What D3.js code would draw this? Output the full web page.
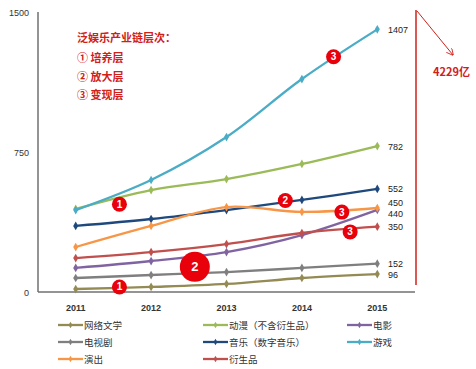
<!DOCTYPE html>
<html><head><meta charset="utf-8">
<script src="https://cdn.jsdelivr.net/npm/d3@7/dist/d3.min.js"></script>
<style>
body{margin:0;background:#fff;}
svg{display:block;font-family:"Noto Sans CJK SC","Liberation Sans",sans-serif;}
</style></head><body>
<svg id="c" width="476" height="369"></svg>
<script>
const years = ["2011","2012","2013","2014","2015"];
const seriesNames = ["网络文学","动漫（不含衍生品）","电影","电视剧","音乐（数字音乐）","游戏","演出","衍生品"];
const seriesColors = ["#948A54","#9BBB59","#8064A2","#7F7F7F","#1F497D","#4BACC6","#F79646","#C0504D"];
const wenxue = [16,27,43,75,96];
const dongman = [445,546,605,686,782];
const dianying = [129,166,214,305,440];
const dianshiju = [75,91,107,129,152];
const yinyue = [354,391,439,493,552];
const youxi = [439,600,830,1141,1407];
const yanchu = [241,354,455,429,450];
const yanshengpin = [182,214,257,316,350];
const seriesValues = [wenxue,dongman,dianying,dianshiju,yinyue,youxi,yanchu,yanshengpin];
const endLabels = ["96","782","440","152","552","1407","450","350"];
const yTicks = [0,750,1500];
const titleLines = ["泛娱乐产业链层次：","① 培养层","② 放大层","③ 变现层"];
const totalLabel = "4229亿";
// badges: [year index, value, text, big?]
const badges = [[0.58,470,"1",0],[0.58,27,"1",0],[1.58,135,"2",1],[2.78,490,"2",0],[3.53,428,"3",0],[3.64,322,"3",0],[3.42,1260,"3",0]];

const svg = d3.select("#c");
const x = d3.scaleBand().domain(years).range([38,415]);
const xc = d => x(d) + x.bandwidth()/2;
const y = d3.scaleLinear().domain([0,1500]).range([292,12]);

// axes
svg.append("line").attr("x1",38).attr("x2",38).attr("y1",12).attr("y2",292).attr("stroke","#707070").attr("stroke-width",1.5);
svg.append("line").attr("x1",38).attr("x2",415).attr("y1",292).attr("y2",292).attr("stroke","#707070").attr("stroke-width",1.5);
svg.selectAll(".yt").data(yTicks).enter().append("text")
  .attr("x",29).attr("y",d=>y(d)+3.5).attr("text-anchor","end")
  .attr("font-size",9).attr("fill","#333").attr("font-family","Liberation Sans").text(d=>d);
svg.selectAll(".xt").data(years).enter().append("text")
  .attr("x",d=>xc(d)).attr("y",311).attr("text-anchor","middle")
  .attr("font-size",9).attr("font-weight","bold").attr("fill","#333").attr("font-family","Liberation Sans").text(d=>d);

// lines
const line = d3.line().x((d,i)=>xc(years[i])).y(d=>y(d)).curve(d3.curveCatmullRom.alpha(0.5));
const diamond = d3.symbol().type(d3.symbolDiamond).size(22);
seriesValues.forEach((vals,k)=>{
  svg.append("path").attr("d",line(vals)).attr("fill","none").attr("stroke",seriesColors[k]).attr("stroke-width",2.3);
  svg.selectAll(".m"+k).data(vals).enter().append("path")
    .attr("d",diamond).attr("transform",(d,i)=>`translate(${xc(years[i])},${y(d)})`).attr("fill",seriesColors[k]);
});

// end labels
const labelOffsets = {"450":-6,"440":3.5};
seriesValues.forEach((vals,k)=>{
  const v = vals[4];
  svg.append("text").attr("x",388).attr("y",y(v)+3.5+(labelOffsets[endLabels[k]]||0))
    .attr("font-size",9).attr("fill","#222").attr("font-family","Liberation Sans").text(endLabels[k]);
});

// badges
const bx = t => x.bandwidth()*t + xc(years[0]);
badges.forEach(b=>{
  const cx = bx(b[0]), cy = y(b[1]), r = b[3]?15:7.5;
  svg.append("circle").attr("cx",cx).attr("cy",cy).attr("r",r).attr("fill","#E8000B");
  svg.append("text").attr("x",cx).attr("y",cy+(b[3]?4.5:3.5)).attr("text-anchor","middle")
    .attr("font-size",b[3]?13:10).attr("font-weight","bold").attr("fill","#fff").attr("font-family","Liberation Sans").text(b[2]);
});

// title block
const ty = [38,58,77,95];
titleLines.forEach((t,i)=>{
  svg.append("text").attr("x",77).attr("y",ty[i]+4).attr("font-size",11).attr("font-weight","bold")
    .attr("fill","#D0201A").text(t);
});

// red bracket & arrow
svg.append("defs").append("marker").attr("id","ah").attr("viewBox","0 0 10 10").attr("refX",9).attr("refY",5)
  .attr("markerWidth",7).attr("markerHeight",7).attr("orient","auto")
  .append("path").attr("d","M0,0 L10,5 L0,10").attr("fill","none").attr("stroke","#D0201A").attr("stroke-width",1.2);
svg.append("line").attr("x1",416).attr("x2",416).attr("y1",10).attr("y2",285).attr("stroke","#D0201A").attr("stroke-width",1.5);
svg.append("line").attr("x1",417).attr("x2",453).attr("y1",11).attr("y2",55).attr("stroke","#D0201A").attr("stroke-width",1).attr("marker-end","url(#ah)");
svg.append("text").attr("x",433).attr("y",76).attr("font-size",11).attr("font-weight","bold").attr("fill","#D0201A").text(totalLabel);

// legend
const legX = [58,203,347], legY = [325,342,359];
seriesNames.forEach((n,k)=>{
  const col = k%3, row = Math.floor(k/3);
  const lx = legX[col], ly = legY[row];
  svg.append("line").attr("x1",lx).attr("x2",lx+25).attr("y1",ly).attr("y2",ly).attr("stroke",seriesColors[k]).attr("stroke-width",2.3);
  svg.append("path").attr("d",d3.symbol().type(d3.symbolDiamond).size(12)).attr("transform",`translate(${lx+12.5},${ly})`).attr("fill",seriesColors[k]);
  svg.append("text").attr("x",lx+26).attr("y",ly+3.5).attr("font-size",9.5).attr("fill","#333").text(n);
});
</script></body></html>
